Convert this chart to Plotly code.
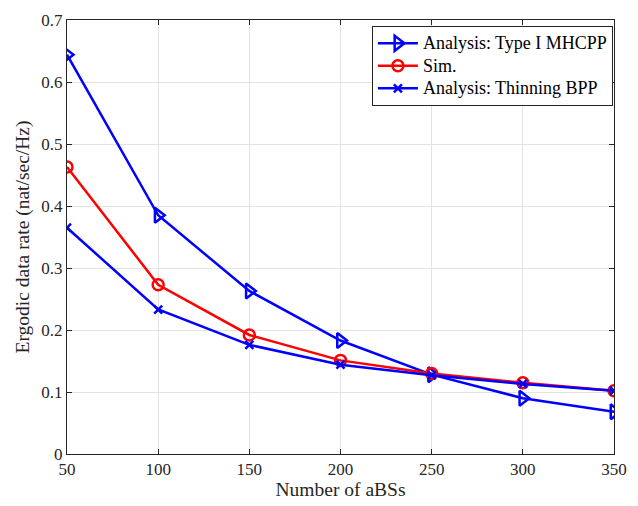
import plotly.graph_objects as go

# Number of aBSs
n_abs = [50, 100, 150, 200, 250, 300, 350]

# Ergodic data rate (nat/sec/Hz)
rate_mhcpp = [0.644, 0.385, 0.263, 0.183, 0.128, 0.090, 0.068]
rate_sim = [0.463, 0.273, 0.192, 0.151, 0.130, 0.115, 0.102]
rate_bpp = [0.365, 0.233, 0.176, 0.144, 0.127, 0.113, 0.102]

series_names = ["Analysis: Type I MHCPP", "Sim.", "Analysis: Thinning BPP"]

family = "Liberation Serif, Times New Roman, serif"
tick_font = dict(family=family, size=17, color="#262626")
title_font = dict(family=family, size=19.5, color="#262626")


def legend_label(text):
    # larger glyphs than the legend's base size keep the rows compact
    return f'<span style="font-size:18px">{text}</span>'


fig = go.Figure()
fig.add_trace(go.Scatter(
    x=n_abs, y=rate_mhcpp, mode="lines+markers", name=legend_label(series_names[0]),
    line=dict(color="#0000ff", width=2.5),
    marker=dict(symbol="triangle-right-open", size=13, color="#0000ff", line=dict(width=2.5)),
))
fig.add_trace(go.Scatter(
    x=n_abs, y=rate_sim, mode="lines+markers", name=legend_label(series_names[1]),
    line=dict(color="#ff0000", width=2.5),
    marker=dict(symbol="circle-open", size=11, color="#ff0000", line=dict(width=2.5)),
))
fig.add_trace(go.Scatter(
    x=n_abs, y=rate_bpp, mode="lines+markers", name=legend_label(series_names[2]),
    line=dict(color="#0000ff", width=2.5),
    marker=dict(symbol="x-thin-open", size=8, color="#0000ff", line=dict(width=2.5, color="#0000ff")),
))

axis_common = dict(
    showline=True, linecolor="#262626", linewidth=1, mirror="ticks",
    ticks="inside", ticklen=5, tickcolor="#262626",
    showgrid=True, gridcolor="#e3e3e3", gridwidth=1, zeroline=False,
    tickfont=tick_font, ticklabeloverflow="allow",
)
fig.update_xaxes(range=[50, 350], dtick=50,
                 title=dict(text="Number of aBSs", font=title_font, standoff=2), **axis_common)
fig.update_yaxes(range=[0, 0.7], dtick=0.1, tickformat=".1~f",
                 title=dict(text="Ergodic data rate (nat/sec/Hz)", font=title_font, standoff=6), **axis_common)

fig.update_layout(
    width=638, height=506,
    margin=dict(l=67, r=11, t=14, b=51),
    paper_bgcolor="white", plot_bgcolor="white",
    font=tick_font,
    legend=dict(
        x=0.998, y=0.986, xanchor="right", yanchor="top",
        bgcolor="white", bordercolor="#262626", borderwidth=1,
        font=dict(family=family, size=15, color="black"),
        tracegroupgap=0, itemwidth=40,
    ),
)

fig.write_html("out.html")
